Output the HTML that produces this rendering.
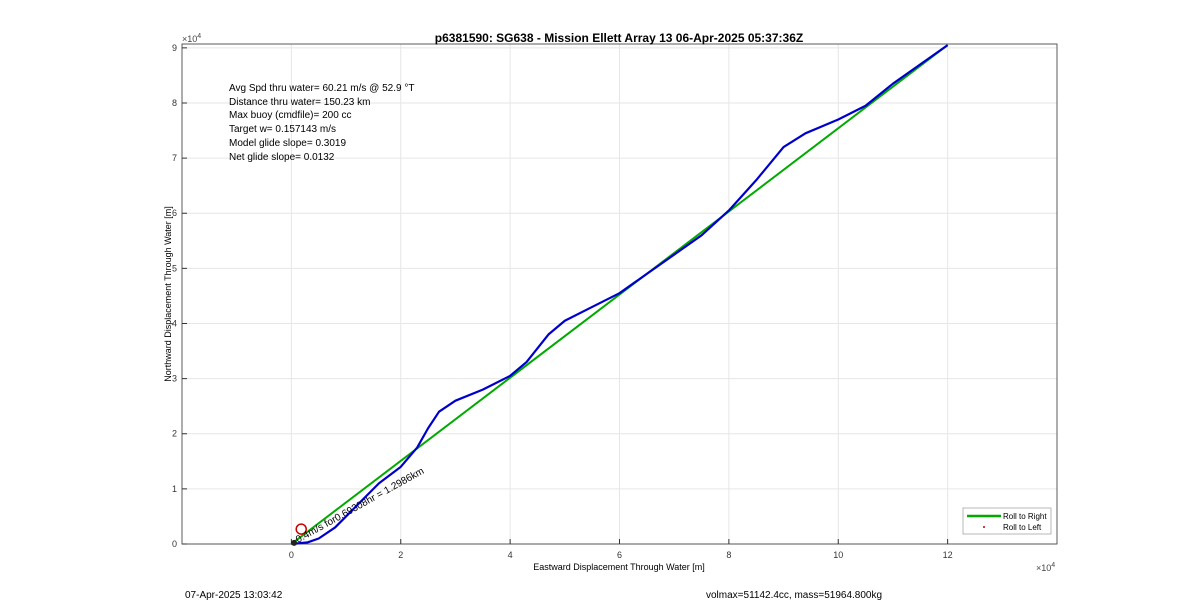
<!DOCTYPE html>
<html><head><meta charset="utf-8">
<style>
body{margin:0;background:#fff;width:1200px;height:611px;overflow:hidden;font-family:"Liberation Sans",Arial,sans-serif;}
svg text{font-family:"Liberation Sans",Arial,sans-serif;}
</style></head><body>
<svg width="1200" height="611">
<g id="grid"></g>
<g id="axes"></g>
<g id="series"></g>
<text x="619" y="42" text-anchor="middle" font-size="12" font-weight="bold">p6381590: SG638 - Mission Ellett Array 13 06-Apr-2025 05:37:36Z</text>
<text x="619" y="570" text-anchor="middle" font-size="9">Eastward Displacement Through Water [m]</text>
<text transform="translate(171,294) rotate(-90)" text-anchor="middle" font-size="9">Northward Displacement Through Water [m]</text>
<text x="1036" y="571" font-size="9" fill="#444">×10<tspan font-size="7" dy="-4">4</tspan></text>
<text x="182" y="42" font-size="9" fill="#444">×10<tspan font-size="7" dy="-4">4</tspan></text>
<g font-size="10">
<text x="229" y="91">Avg Spd thru water= 60.21 m/s @  52.9 °T</text>
<text x="229" y="105">Distance thru water= 150.23 km</text>
<text x="229" y="118">Max buoy (cmdfile)= 200 cc</text>
<text x="229" y="132">Target w= 0.157143 m/s</text>
<text x="229" y="146">Model glide slope= 0.3019</text>
<text x="229" y="160">Net glide slope= 0.0132</text>
</g>
<text transform="translate(298,543) rotate(-29)" font-size="10">0.4m/s for0.69308hr = 1.2986km</text>
<g>
<rect x="963" y="508" width="88" height="26" fill="#fff" stroke="#999" stroke-width="0.7"/>
<line x1="967" y1="516" x2="1001" y2="516" stroke="#00aa00" stroke-width="2.5"/>
<text x="1003" y="519" font-size="8">Roll to Right</text>
<circle cx="984" cy="527" r="1" fill="#c00"/>
<text x="1003" y="530" font-size="8">Roll to Left</text>
</g>
<text x="185" y="598" font-size="10">07-Apr-2025 13:03:42</text>
<text x="706" y="598" font-size="10">volmax=51142.4cc, mass=51964.800kg</text>
</svg>
<script>
const blueX=[0,0.3,0.5,0.8,1.2,1.6,2.0,2.3,2.5,2.7,3.0,3.5,4.0,4.3,4.7,5.0,5.5,6.0,6.5,7.0,7.5,8.0,8.5,9.0,9.4,10.0,10.5,11.0,11.5,12.0];
const blueY=[0,0.03,0.1,0.3,0.7,1.1,1.4,1.75,2.1,2.4,2.6,2.8,3.05,3.3,3.8,4.05,4.3,4.55,4.9,5.25,5.6,6.05,6.6,7.2,7.45,7.7,7.95,8.35,8.7,9.05];
const greenX=[0,12];
const greenY=[0,9.05];
const xTicks=[0,2,4,6,8,10,12];
const yTicks=[0,1,2,3,4,5,6,7,8,9];
const L=182,R=1057,T=44,B=544,xmin=-2,xmax=14,ymin=0,ymax=9.07;
const sx=v=>L+(v-xmin)/(xmax-xmin)*(R-L);
const sy=v=>B-(v-ymin)/(ymax-ymin)*(B-T);
const NS='http://www.w3.org/2000/svg';
function mk(t,a,p){const e=document.createElementNS(NS,t);for(const k in a)e.setAttribute(k,a[k]);p.appendChild(e);return e;}
const g=document.getElementById('grid'),ax=document.getElementById('axes'),s=document.getElementById('series');
xTicks.forEach(v=>{const l=mk('line',{x1:sx(v),x2:sx(v),y1:T,y2:B,stroke:'#e6e6e6'},g);

const t=mk('text',{x:sx(v),y:B+14,'text-anchor':'middle','font-size':9,fill:'#333'},ax);t.textContent=v;

mk('line',{x1:sx(v),x2:sx(v),y1:B,y2:B-5,stroke:'#333'},ax);});
yTicks.forEach(v=>{const l=mk('line',{x1:L,x2:R,y1:sy(v),y2:sy(v),stroke:'#e6e6e6'},g);

const t=mk('text',{x:L-5,y:sy(v)+3,'text-anchor':'end','font-size':9,fill:'#333'},ax);t.textContent=v;

mk('line',{x1:L,x2:L+5,y1:sy(v),y2:sy(v),stroke:'#333'},ax);});
mk('rect',{x:L,y:T,width:R-L,height:B-T,fill:'none',stroke:'#333','stroke-width':0.8},ax);
const gl=mk('polyline',{points:greenX.map((x,i)=>sx(x)+','+sy(greenY[i])).join(' '),fill:'none',stroke:'#00aa00','stroke-width':2},s);

const bl=mk('polyline',{points:blueX.map((x,i)=>sx(x)+','+sy(blueY[i])).join(' '),fill:'none',stroke:'#0000cc','stroke-width':2.2,'stroke-linejoin':'round'},s);

const c=mk('circle',{cx:sx(0.18),cy:sy(0.27),r:5,fill:'none',stroke:'#cc0000','stroke-width':1.5},s);

const d=mk('circle',{cx:sx(0.05),cy:sy(0.02),r:3,fill:'#222'},s);

</script>
</body></html>
